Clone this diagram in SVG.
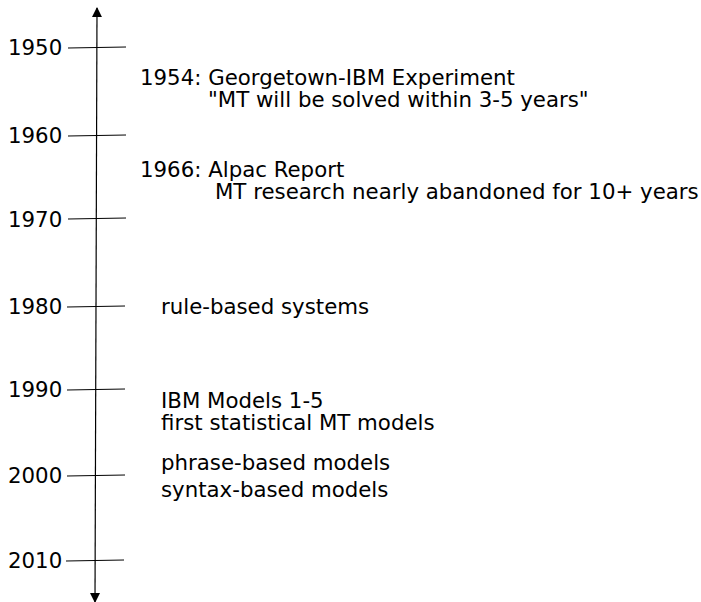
<svg xmlns="http://www.w3.org/2000/svg" width="701" height="602" viewBox="0 0 701 602">
<style>
text{font-family:"DejaVu Sans",sans-serif;font-size:21.3px;fill:#000}
.tick{stroke:#000;stroke-width:1}
.axis{stroke:#000;stroke-width:1.2;fill:none}
</style>
<defs>
<marker id="ah" viewBox="0 0 10 10" refX="9" refY="5" markerWidth="10" markerHeight="10" markerUnits="userSpaceOnUse" orient="auto-start-reverse">
<path d="M0,0 L10,5 L0,10 z" fill="#000"/>
</marker>
</defs>
<rect width="701" height="602" fill="#fff"/>
<g id="connectors">
<line class="axis" x1="97" y1="8" x2="95" y2="602" marker-start="url(#ah)" marker-end="url(#ah)"/>
<line class="tick" x1="68" y1="48" x2="126" y2="47"/>
<line class="tick" x1="68" y1="136" x2="126" y2="135"/>
<line class="tick" x1="68" y1="219" x2="126" y2="218"/>
<line class="tick" x1="67" y1="307" x2="125" y2="306"/>
<line class="tick" x1="67" y1="390" x2="125" y2="389"/>
<line class="tick" x1="67" y1="476" x2="125" y2="475"/>
<line class="tick" x1="66" y1="561" x2="124" y2="560"/>
</g>
<g id="years">
<text x="8" y="55">1950</text>
<text x="8" y="143">1960</text>
<text x="8" y="227">1970</text>
<text x="8" y="314">1980</text>
<text x="8" y="397">1990</text>
<text x="8" y="483">2000</text>
<text x="8" y="568">2010</text>
</g>
<g id="e1954">
<text x="140" y="85">1954: Georgetown-IBM Experiment</text>
<text x="208" y="107">"MT will be solved within 3-5 years"</text>
</g>
<g id="e1966">
<text x="140" y="177">1966: Alpac Report</text>
<text x="215" y="199">MT research nearly abandoned for 10+ years</text>
</g>
<g id="e1980">
<text x="161" y="314">rule-based systems</text>
</g>
<g id="e1990">
<text x="161" y="408">IBM Models 1-5</text>
<text x="161" y="430">first statistical MT models</text>
</g>
<g id="e2000">
<text x="161" y="470">phrase-based models</text>
<text x="161" y="497">syntax-based models</text>
</g>
</svg>
